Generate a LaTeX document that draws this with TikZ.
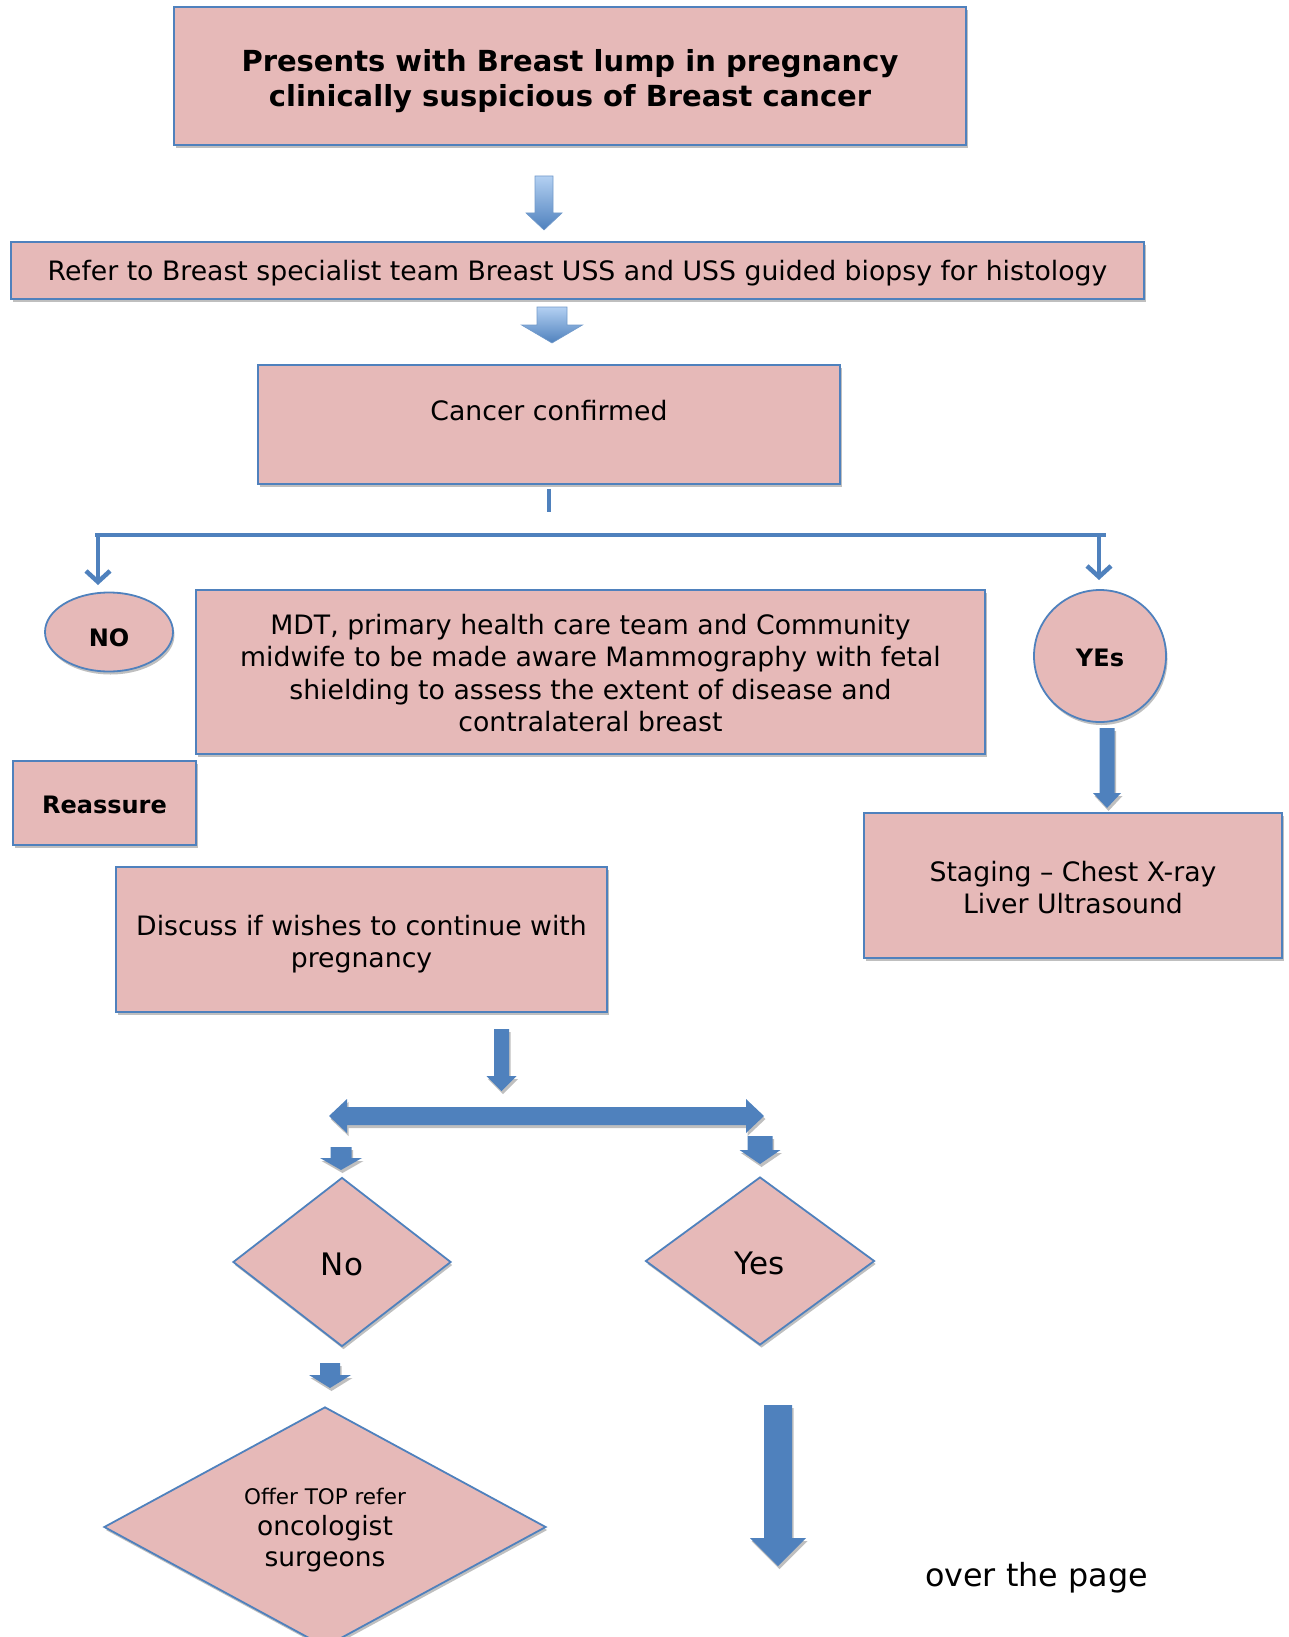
\documentclass[tikz,border=0pt]{standalone}
\usepackage{fontspec}
\setmainfont{DejaVu Sans}
\usetikzlibrary{shapes.geometric,arrows.meta,calc,shadows}
\definecolor{pinkfill}{HTML}{E6B9B8}
\definecolor{blueline}{HTML}{4F81BD}
\definecolor{lightblue}{HTML}{B3D0F2}
% cx, top, half shaft, head base, half head, tip
\newcommand\fatdown[7][fill=blueline]{%
  \path[#1] ({#2-#4},#3) -- ({#2+#4},#3) -- ({#2+#4},#5) -- ({#2+#6},#5) -- (#2,#7)
    -- ({#2-#6},#5) -- ({#2-#4},#5) -- cycle;}
\newcommand\lft[1]{\rule{0pt}{#1}}
\begin{document}
\begin{tikzpicture}[x=1pt,y=-1pt,
  shad/.style={drop shadow={shadow xshift=1.5pt,shadow yshift=-3pt,opacity=0.25,fill=black}},
  box/.style={draw=blueline, line width=1.8pt, fill=pinkfill, inner sep=0pt, align=center,
    text depth=0pt, font=\fontsize{26.7}{32.5}\selectfont, shad},
  boldbox/.style={box, font=\bfseries\fontsize{24}{29}\selectfont},
  conn/.style={draw=blueline, line width=4.5pt},
  grad/.style={top color=lightblue, bottom color=blueline, draw=blueline!80, line width=0.6pt},
  fat/.style={fill=blueline, shad},
]
\useasboundingbox (0,0) rectangle (1288,1637);

\node[box, font=\bfseries\fontsize{29}{35}\selectfont, minimum width=792pt, minimum height=138pt]
  (top) at (570,76) {\lft{26pt}Presents with Breast lump in pregnancy\\clinically suspicious of Breast cancer};
\node[box, minimum width=1133pt, minimum height=57pt] (refer) at (577.5,270.5)
  {Refer to Breast specialist team Breast USS and USS guided biopsy for histology};
\node[box, minimum width=582pt, text height=55pt, text depth=64pt] (cc) at (549,424.5) {Cancer confirmed};
\node[boldbox, ellipse, text height=29.5pt, minimum width=128pt, minimum height=79pt] (no) at (109,632) {NO};
\node[boldbox, circle, text height=21.5pt, minimum size=132pt] (yes) at (1100,656) {YEs};
\node[box, minimum width=789pt, minimum height=164pt] (mdt) at (590.5,672)
  {\lft{22.3pt}MDT, primary health care team and Community\\midwife to be made aware Mammography with fetal\\shielding to assess the extent of disease and\\contralateral breast};
\node[boldbox, text height=21.5pt, minimum width=183pt, minimum height=84pt] (reassure) at (104.5,803) {Reassure};
\node[box, minimum width=491pt, minimum height=145pt] (discuss) at (361.5,939.5)
  {\lft{24.3pt}Discuss if wishes to continue with\\pregnancy};
\node[box, minimum width=418pt, minimum height=145pt] (staging) at (1073,885.5)
  {\lft{24.3pt}Staging – Chest X-ray\\Liver Ultrasound};
\node[box, diamond, text height=26.6pt, minimum width=218pt, minimum height=169pt, font=\fontsize{31}{37}\selectfont]
  (dno) at (342,1262) {No};
\node[box, diamond, text height=26.6pt, minimum width=229pt, minimum height=168pt, font=\fontsize{31}{37}\selectfont]
  (dyes) at (760,1261) {Yes};
\node[box, diamond, minimum width=442pt, minimum height=224pt, font=\fontsize{26.5}{31}\selectfont]
  (offer) at (325,1527) {{\fontsize{21.5}{26}\selectfont Offer TOP refer}\\oncologist\\surgeons};
\node[inner sep=0pt, text depth=4pt, font=\fontsize{31.8}{38}\selectfont] (otp) at (1036.5,1576) {over the page};

% thin connectors
\coordinate (ccb) at ($(cc.south)+(0,4)$);
\coordinate (hl) at (95,535);
\coordinate (hr) at (1106,535);
\coordinate (nl) at (98,533);
\coordinate (nlt) at (98,585);
\coordinate (yl) at (1099,533);
\coordinate (ylt) at (1099,580);
\draw[conn] (ccb) -- ++(0,23);
\draw[conn] (hl) -- (hr);
\draw[conn, -{Straight Barb[length=11pt,width=24pt]}] (nl) -- (nlt);
\draw[conn, -{Straight Barb[length=11pt,width=24pt]}] (yl) -- (ylt);

% block arrows
\fatdown[grad]{544}{176}{9}{213}{18}{230}
\fatdown[grad]{552}{307}{15}{325}{30.5}{343}
\fatdown[fat]{1107}{728}{7.5}{793}{14}{808}
\fatdown[fat]{501.5}{1029}{7.5}{1076}{15}{1091}
\fatdown[fat]{341}{1147}{10.5}{1158}{21}{1170}
\fatdown[fat]{760}{1136}{12.5}{1150}{20.5}{1164}
\fatdown[fat]{330}{1363}{10}{1375}{21}{1388}
\fatdown[fat]{778}{1405}{14}{1538}{28}{1566}
\path[fat] (329,1116) -- (347,1099) -- (347,1107) -- (746,1107) -- (746,1099) -- (764,1116)
  -- (746,1133) -- (746,1125) -- (347,1125) -- (347,1133) -- cycle;
\end{tikzpicture}
\end{document}
